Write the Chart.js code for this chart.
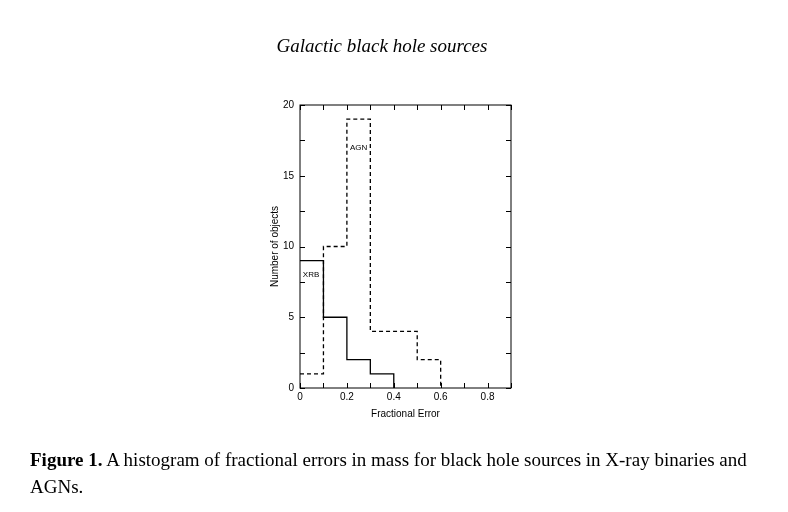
<!DOCTYPE html>
<html>
<head>
<meta charset="utf-8">
<script src="https://cdn.jsdelivr.net/npm/chart.js@4"></script>
<style>
  html, body { margin: 0; padding: 0; background: #fff; }
  #page { position: relative; width: 788px; height: 512px; overflow: hidden; }
  #chart { position: absolute; left: 0; top: 0; }
  .title { position: absolute; left: 0; width: 764px; top: 35px; text-align: center;
    font: italic 19px "Liberation Serif", serif; color: #000; }
  .caption { position: absolute; left: 30px; font: 19px "Liberation Serif", serif; color: #000; white-space: nowrap; }
</style>
</head>
<body>
<div id="page">
  <canvas id="chart" width="788" height="512"></canvas>
  <div class="title">Galactic black hole sources</div>
  <div class="caption" style="top:449px"><b>Figure 1.</b> A histogram of fractional errors in mass for black hole sources in X-ray binaries and</div>
  <div class="caption" style="top:476px">AGNs.</div>
</div>
<script>
// bin edges of the histogram (fractional error)
var binEdges = [0, 0.1, 0.2, 0.3, 0.4, 0.5, 0.6];
// counts per bin
var xrbCounts = [9, 5, 2, 1];
var agnCounts = [1, 10, 19, 4, 4, 2];

// where the series names sit, in data units
var seriesNotes = [
  { text: 'XRB', x: 0.012, y: 8 },
  { text: 'AGN', x: 0.213, y: 17 }
];

function stepPoints(counts) {
  var pts = counts.map(function (c, i) { return { x: binEdges[i], y: c }; });
  pts.push({ x: binEdges[counts.length], y: 0 });
  return pts;
}

var frame = {
  id: 'frame',
  afterDraw: function (chart) {
    var ctx = chart.ctx, a = chart.chartArea;
    var xs = chart.scales.x, ys = chart.scales.y;
    ctx.save();
    ctx.strokeStyle = '#000';
    ctx.lineWidth = 1;
    ctx.strokeRect(a.left, a.top, a.right - a.left, a.bottom - a.top);
    ctx.beginPath();
    xs.ticks.forEach(function (t) {
      var px = Math.round(xs.getPixelForValue(t.value)) + 0.5;
      ctx.moveTo(px, a.bottom); ctx.lineTo(px, a.bottom - 5);
      ctx.moveTo(px, a.top); ctx.lineTo(px, a.top + 5);
    });
    ys.ticks.forEach(function (t) {
      var py = Math.round(ys.getPixelForValue(t.value)) + 0.5;
      ctx.moveTo(a.left, py); ctx.lineTo(a.left + 5, py);
      ctx.moveTo(a.right, py); ctx.lineTo(a.right - 5, py);
    });
    ctx.stroke();

    ctx.fillStyle = '#000';
    ctx.font = '8px "Liberation Sans", Arial, sans-serif';
    ctx.textBaseline = 'middle';
    ctx.textAlign = 'left';
    seriesNotes.forEach(function (n) {
      ctx.fillText(n.text, xs.getPixelForValue(n.x), ys.getPixelForValue(n.y));
    });
    ctx.restore();
  }
};

var tickFont = { family: '"Liberation Sans", Arial, sans-serif', size: 10 };

new Chart(document.getElementById('chart').getContext('2d'), {
  type: 'line',
  data: {
    datasets: [{
      label: 'XRB',
      data: stepPoints(xrbCounts),
      stepped: 'before',
      borderColor: '#000',
      borderWidth: 1.3,
      pointRadius: 0,
      fill: false
    }, {
      label: 'AGN',
      data: stepPoints(agnCounts),
      stepped: 'before',
      borderColor: '#000',
      borderWidth: 1.3,
      borderDash: [4, 3],
      pointRadius: 0,
      fill: false
    }]
  },
  options: {
    responsive: false,
    animation: false,
    layout: { padding: { left: 268, right: 277, top: 105, bottom: 88 } },
    plugins: { legend: { display: false }, tooltip: { enabled: false } },
    scales: {
      x: {
        type: 'linear',
        min: 0,
        max: 0.9,
        grid: { display: false, drawTicks: false },
        border: { display: false },
        ticks: {
          stepSize: 0.1,
          padding: 3,
          color: '#000',
          font: tickFont,
          maxRotation: 0,
          autoSkip: false,
          callback: function (v) {
            var k = Math.round(v * 10);
            if (k % 2 !== 0 || k > 8) return '';
            return k === 0 ? '0' : (k / 10).toFixed(1);
          }
        },
        title: { display: true, text: 'Fractional Error', color: '#000', font: tickFont, padding: { top: 0, bottom: 4 } },
        afterFit: function (s) { s.height = 36; }
      },
      y: {
        min: 0,
        max: 20,
        grid: { display: false, drawTicks: false },
        border: { display: false },
        ticks: {
          stepSize: 2.5,
          padding: 6,
          color: '#000',
          font: tickFont,
          autoSkip: false,
          callback: function (v) { return v % 5 === 0 ? String(v) : ''; }
        },
        title: { display: true, text: 'Number of objects', color: '#000', font: tickFont, padding: { top: 1, bottom: 0 } },
        afterFit: function (s) { s.width = 32; }
      }
    }
  },
  plugins: [frame]
});
</script>
</body>
</html>
